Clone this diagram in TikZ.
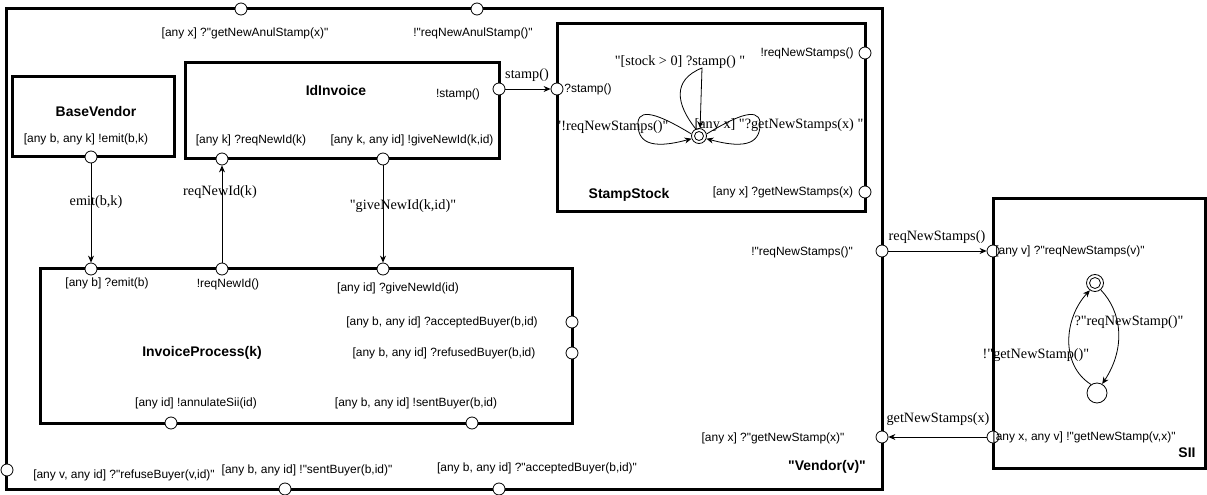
\documentclass[tikz,border=0pt]{standalone}
\usepackage{fontspec}
\setmainfont{Liberation Serif}[Ligatures=TeXOff]
\setsansfont{Liberation Sans}[Ligatures=TeXOff]
\usetikzlibrary{arrows.meta}
\begin{document}
\begin{tikzpicture}[x=1bp,y=-1bp,
  box/.style={draw, line width=3bp, inner sep=0pt},
  port/.style={circle, draw, fill=white, inner sep=0pt, minimum size=12bp, line width=0.8bp},
  lab/.style={font=\sffamily\fontsize{12}{14}\selectfont, inner sep=0pt},
  ttl/.style={font=\sffamily\bfseries\fontsize{14}{16}\selectfont, inner sep=0pt},
  elab/.style={font=\rmfamily\fontsize{14.3}{16}\selectfont, inner sep=0pt},
  arr/.style={-{Stealth[length=7bp,width=6bp]}, line width=0.8bp},
  st/.style={circle, draw, inner sep=0pt, line width=0.8bp}]
\useasboundingbox (0,0) rectangle (1207,495);
% boxes
\node[box, minimum width=875bp, minimum height=480bp] (vendor) at (444.5,249) {};
\node[box, minimum width=161bp, minimum height=80bp] (basev) at (93.5,117) {};
\node[box, minimum width=313bp, minimum height=96bp] (idinv) at (342.5,111) {};
\node[box, minimum width=308bp, minimum height=188bp] (stock) at (711,118) {};
\node[box, minimum width=531bp, minimum height=154bp] (invp) at (306.5,346) {};
\node[box, minimum width=212bp, minimum height=269bp] (sii) at (1099,333.5) {};
% ports
\node[port] (vtop1) at (241,9) {};
\node[port] (vtop2) at (477,9) {};
\node[port] (vleft) at (7,470) {};
\node[port] (vbot1) at (285,489) {};
\node[port] (vbot2) at (499,489) {};
\node[port] (vright1) at (882,251) {};
\node[port] (vright2) at (882,437) {};
\node[port] (bvemit) at (91,157) {};
\node[port] (idreq) at (222,159) {};
\node[port] (idgive) at (383,159) {};
\node[port] (idstamp) at (499,89) {};
\node[port] (ssstamp) at (557,89) {};
\node[port] (ssreq) at (865,53) {};
\node[port] (ssget) at (865,192) {};
\node[port] (ipemit) at (91,269) {};
\node[port] (ipreq) at (222,269) {};
\node[port] (ipgive) at (383,269) {};
\node[port] (ipacc) at (572,322) {};
\node[port] (ipref) at (572,353) {};
\node[port] (ipann) at (171,423) {};
\node[port] (ipsent) at (472,423) {};
\node[port] (siireq) at (993,251) {};
\node[port] (siiget) at (993,437) {};
% connectors between ports
\draw[arr] (bvemit) -- (ipemit);
\draw[arr] (ipreq) -- (idreq);
\draw[arr] (idgive) -- (ipgive);
\draw[arr] (idstamp) -- (ssstamp);
\draw[arr] (vright1) -- (siireq);
\draw[arr] (siiget) -- (vright2);
% Vendor labels
\node[lab] (l1) at (245,33) {[any x] ?"getNewAnulStamp(x)"};
\node[lab] (l2) at (473,33) {!"reqNewAnulStamp()"};
\node[lab] (l3) at (124,475) {[any v, any id] ?"refuseBuyer(v,id)"};
\node[lab] (l4) at (307,470) {[any b, any id] !"sentBuyer(b,id)"};
\node[lab] (l5) at (537,468) {[any b, any id] ?"acceptedBuyer(b,id)"};
\node[ttl] (t1) at (827,467) {"Vendor(v)"};
\node[lab] (l6) at (802,252) {!"reqNewStamps()"};
\node[lab] (l7) at (773,438) {[any x] ?"getNewStamp(x)"};
% BaseVendor
\node[ttl] (t2) at (96,112) {BaseVendor};
\node[lab] (l8) at (86,139) {[any b, any k] !emit(b,k)};
% IdInvoice
\node[ttl] (t3) at (336,91) {IdInvoice};
\node[lab] (l9) at (251,140) {[any k] ?reqNewId(k)};
\node[lab] (l10) at (412,140) {[any k, any id] !giveNewId(k,id)};
\node[lab] (l11) at (458,94) {!stamp()};
% StampStock
\node[lab] (l12) at (588,89) {?stamp()};
\node[lab] (l13) at (807,53) {!reqNewStamps()};
\node[lab] (l14) at (783,192) {[any x] ?getNewStamps(x)};
\node[ttl] (t4) at (629,195) {StampStock};
\node[st, minimum size=15bp] (s1) at (699,136) {};
\draw[line width=0.8bp] (s1.center) circle[radius=4.5bp];
\draw[arr] (s1.115) .. controls (676,104) and (672,80) .. (702,68) -- (s1.82);
\draw[arr] (s1.165) .. controls (665,118) and (640,106) .. (638,122) .. controls (637,142) and (650,150) .. (s1.200);
\draw[arr] (s1.15) .. controls (733,118) and (758,106) .. (760,122) .. controls (761,142) and (748,150) .. (s1.340);
\node[elab] (e1) at (680,62) {"[stock > 0] ?stamp() "};
\node[elab] (e2) at (612,127) {"!reqNewStamps()"};
\node[elab] (e3) at (779,125) {[any x] "?getNewStamps(x) "};
% InvoiceProcess
\node[lab] (l15) at (107,283) {[any b] ?emit(b)};
\node[lab] (l16) at (228,284) {!reqNewId()};
\node[lab] (l17) at (398,288) {[any id] ?giveNewId(id)};
\node[lab] (l18) at (442,322) {[any b, any id] ?acceptedBuyer(b,id)};
\node[lab] (l19) at (444,353) {[any b, any id] ?refusedBuyer(b,id)};
\node[ttl] (t5) at (202,353) {InvoiceProcess(k)};
\node[lab] (l20) at (196,403) {[any id] !annulateSii(id)};
\node[lab] (l21) at (416,403) {[any b, any id] !sentBuyer(b,id)};
% connector labels
\node[elab] (e4) at (96,202) {emit(b,k)};
\node[elab] (e5) at (220,192) {reqNewId(k)};
\node[elab] (e6) at (403,206) {"giveNewId(k,id)"};
\node[elab] (e7) at (527,75) {stamp()};
\node[elab] (e8) at (937,237) {reqNewStamps()};
\node[elab] (e9) at (938,419) {getNewStamps(x)};
% SII
\node[lab] (l22) at (1070,251) {[any v] ?"reqNewStamps(v)"};
\node[lab] (l23) at (1084,437) {[any x, any v] !"getNewStamp(v,x)"};
\node[ttl] (t6) at (1187,453) {SII};
\node[st, minimum size=17bp] (s2) at (1095,283) {};
\draw[line width=0.8bp] (s2.center) circle[radius=5.5bp];
\node[st, minimum size=20bp] (s3) at (1097,393) {};
\draw[arr] (s2.-50) .. controls (1122,312) and (1126,348) .. (s3.60);
\draw[arr] (s3.125) .. controls (1060,365) and (1064,318) .. (s2.235);
\node[elab] (e10) at (1129,322) {?"reqNewStamp()"};
\node[elab] (e11) at (1036,355) {!"getNewStamp()"};
\end{tikzpicture}
\end{document}
